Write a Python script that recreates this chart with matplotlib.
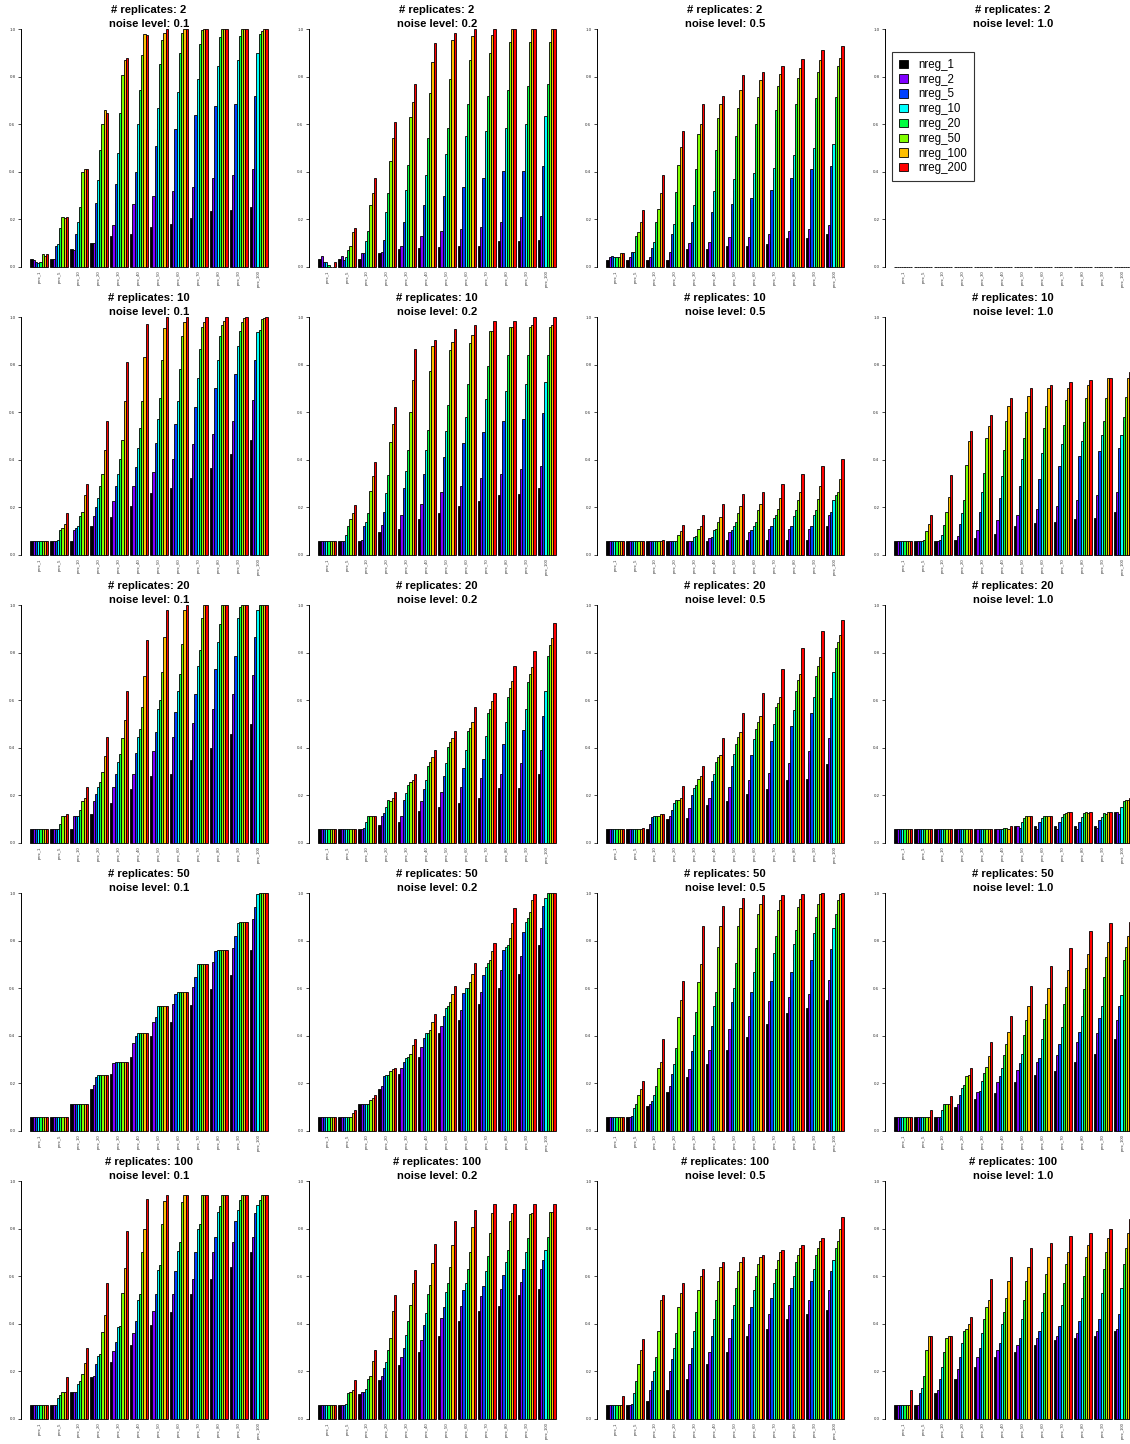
import matplotlib
matplotlib.use("Agg")
import matplotlib.pyplot as plt
from matplotlib.patches import Patch
import numpy as np

plt.rcParams['font.family'] = ['Liberation Sans', 'DejaVu Sans']

perc_labels = ["perc_1", "perc_5", "perc_10", "perc_20", "perc_30", "perc_40",
               "perc_50", "perc_60", "perc_70", "perc_80", "perc_90", "perc_100"]
nreg_labels = ["nreg_1", "nreg_2", "nreg_5", "nreg_10",
               "nreg_20", "nreg_50", "nreg_100", "nreg_200"]
nreg_colors = ["#000000", "#8000FF", "#0040FF", "#00FFFF",
               "#00FF40", "#80FF00", "#FFBF00", "#FF0000"]
replicates = [2, 10, 20, 50, 100]
noise_levels = ["0.1", "0.2", "0.5", "1.0"]

# rows: perc groups, columns: nreg
rep2_noise01 = [
    [0.035, 0.03, 0.02, 0.015, 0.02, 0.053, 0.045, 0.053],
    [0.035, 0.035, 0.09, 0.095, 0.165, 0.21, 0.205, 0.21],
    [0.075, 0.07, 0.14, 0.19, 0.25, 0.40, 0.41, 0.41],
    [0.10, 0.10, 0.27, 0.365, 0.49, 0.60, 0.66, 0.645],
    [0.13, 0.175, 0.35, 0.48, 0.645, 0.805, 0.87, 0.88],
    [0.14, 0.265, 0.40, 0.60, 0.745, 0.89, 0.98, 0.975],
    [0.17, 0.30, 0.51, 0.67, 0.855, 0.955, 0.985, 1.0],
    [0.18, 0.32, 0.58, 0.735, 0.90, 0.985, 1.0, 1.0],
    [0.205, 0.335, 0.64, 0.79, 0.935, 0.995, 1.0, 1.0],
    [0.235, 0.375, 0.675, 0.845, 0.965, 1.0, 1.0, 1.0],
    [0.24, 0.385, 0.685, 0.87, 0.97, 1.0, 1.0, 1.0],
    [0.25, 0.41, 0.72, 0.90, 0.98, 0.99, 1.0, 1.0],
]
rep2_noise02 = [
    [0.035, 0.045, 0.02, 0.02, 0.01, 0.0, 0.0, 0.02],
    [0.035, 0.045, 0.03, 0.04, 0.07, 0.09, 0.145, 0.165],
    [0.035, 0.06, 0.06, 0.11, 0.15, 0.26, 0.31, 0.375],
    [0.06, 0.065, 0.115, 0.23, 0.31, 0.445, 0.54, 0.61],
    [0.075, 0.09, 0.19, 0.325, 0.43, 0.63, 0.695, 0.77],
    [0.08, 0.13, 0.26, 0.385, 0.54, 0.73, 0.86, 0.94],
    [0.085, 0.15, 0.30, 0.475, 0.585, 0.79, 0.955, 0.985],
    [0.09, 0.16, 0.335, 0.55, 0.685, 0.87, 0.97, 1.0],
    [0.09, 0.17, 0.375, 0.57, 0.72, 0.90, 0.975, 1.0],
    [0.11, 0.19, 0.405, 0.585, 0.745, 0.945, 1.0, 1.0],
    [0.11, 0.21, 0.405, 0.60, 0.76, 0.945, 1.0, 1.0],
    [0.115, 0.215, 0.425, 0.635, 0.77, 0.945, 1.0, 1.0],
]
rep2_noise05 = [
    [0.03, 0.04, 0.045, 0.04, 0.04, 0.04, 0.06, 0.06],
    [0.03, 0.04, 0.065, 0.065, 0.13, 0.145, 0.19, 0.24],
    [0.03, 0.04, 0.08, 0.105, 0.19, 0.245, 0.31, 0.385],
    [0.03, 0.065, 0.14, 0.18, 0.315, 0.43, 0.505, 0.57],
    [0.075, 0.10, 0.19, 0.26, 0.41, 0.56, 0.60, 0.685],
    [0.075, 0.105, 0.23, 0.32, 0.49, 0.625, 0.685, 0.72],
    [0.09, 0.125, 0.265, 0.37, 0.55, 0.67, 0.745, 0.805],
    [0.09, 0.125, 0.29, 0.395, 0.60, 0.715, 0.785, 0.82],
    [0.095, 0.14, 0.325, 0.415, 0.66, 0.76, 0.81, 0.845],
    [0.12, 0.15, 0.375, 0.47, 0.685, 0.795, 0.835, 0.875],
    [0.12, 0.16, 0.41, 0.50, 0.71, 0.82, 0.87, 0.91],
    [0.14, 0.175, 0.425, 0.515, 0.715, 0.845, 0.88, 0.93],
]
rep2_noise10 = [[0.0] * 8 for _ in range(12)]

rep10_noise01 = [
    [0.06, 0.06, 0.06, 0.06, 0.06, 0.06, 0.06, 0.06],
    [0.06, 0.06, 0.06, 0.065, 0.105, 0.115, 0.13, 0.175],
    [0.06, 0.105, 0.115, 0.12, 0.165, 0.18, 0.25, 0.30],
    [0.12, 0.165, 0.20, 0.24, 0.29, 0.34, 0.44, 0.565],
    [0.16, 0.225, 0.29, 0.34, 0.405, 0.485, 0.645, 0.81],
    [0.205, 0.29, 0.37, 0.45, 0.535, 0.645, 0.83, 0.97],
    [0.26, 0.35, 0.47, 0.57, 0.66, 0.82, 0.955, 1.0],
    [0.28, 0.405, 0.55, 0.645, 0.78, 0.92, 0.98, 1.0],
    [0.325, 0.465, 0.62, 0.745, 0.865, 0.96, 0.98, 1.0],
    [0.365, 0.51, 0.70, 0.82, 0.92, 0.965, 0.985, 1.0],
    [0.425, 0.565, 0.76, 0.88, 0.94, 0.98, 0.995, 1.0],
    [0.485, 0.65, 0.82, 0.935, 0.945, 0.99, 0.995, 1.0],
]
rep10_noise02 = [
    [0.06, 0.06, 0.06, 0.06, 0.06, 0.06, 0.06, 0.06],
    [0.06, 0.06, 0.06, 0.085, 0.12, 0.15, 0.175, 0.21],
    [0.06, 0.065, 0.12, 0.14, 0.175, 0.27, 0.33, 0.39],
    [0.095, 0.125, 0.18, 0.26, 0.335, 0.475, 0.55, 0.62],
    [0.11, 0.17, 0.28, 0.355, 0.44, 0.60, 0.735, 0.865],
    [0.15, 0.215, 0.34, 0.44, 0.525, 0.775, 0.88, 0.905],
    [0.175, 0.265, 0.41, 0.52, 0.63, 0.86, 0.895, 0.95],
    [0.205, 0.29, 0.47, 0.58, 0.72, 0.89, 0.925, 0.965],
    [0.225, 0.325, 0.515, 0.655, 0.795, 0.94, 0.94, 0.985],
    [0.25, 0.34, 0.565, 0.69, 0.84, 0.96, 0.96, 0.985],
    [0.255, 0.36, 0.57, 0.72, 0.84, 0.96, 0.965, 1.0],
    [0.28, 0.375, 0.595, 0.725, 0.84, 0.96, 0.965, 1.0],
]
rep10_noise05 = [
    [0.06, 0.06, 0.06, 0.06, 0.06, 0.06, 0.06, 0.06],
    [0.06, 0.06, 0.06, 0.06, 0.06, 0.06, 0.06, 0.06],
    [0.06, 0.06, 0.06, 0.06, 0.06, 0.06, 0.06, 0.065],
    [0.06, 0.06, 0.06, 0.06, 0.06, 0.085, 0.10, 0.125],
    [0.06, 0.06, 0.06, 0.075, 0.08, 0.11, 0.12, 0.17],
    [0.06, 0.07, 0.075, 0.105, 0.11, 0.14, 0.16, 0.215],
    [0.065, 0.095, 0.105, 0.12, 0.14, 0.175, 0.205, 0.255],
    [0.065, 0.095, 0.105, 0.12, 0.14, 0.19, 0.215, 0.265],
    [0.065, 0.11, 0.12, 0.155, 0.17, 0.195, 0.24, 0.30],
    [0.065, 0.11, 0.12, 0.165, 0.19, 0.23, 0.265, 0.34],
    [0.065, 0.11, 0.12, 0.17, 0.19, 0.235, 0.29, 0.375],
    [0.12, 0.17, 0.18, 0.23, 0.25, 0.265, 0.32, 0.405],
]
rep10_noise10 = [
    [0.06, 0.06, 0.06, 0.06, 0.06, 0.06, 0.06, 0.06],
    [0.06, 0.06, 0.06, 0.06, 0.065, 0.10, 0.13, 0.17],
    [0.06, 0.06, 0.065, 0.085, 0.125, 0.18, 0.245, 0.335],
    [0.065, 0.08, 0.13, 0.175, 0.23, 0.38, 0.48, 0.52],
    [0.07, 0.105, 0.18, 0.265, 0.345, 0.49, 0.54, 0.59],
    [0.09, 0.145, 0.24, 0.33, 0.44, 0.565, 0.625, 0.66],
    [0.12, 0.17, 0.29, 0.405, 0.49, 0.60, 0.67, 0.70],
    [0.135, 0.195, 0.32, 0.43, 0.535, 0.625, 0.70, 0.715],
    [0.14, 0.205, 0.375, 0.465, 0.545, 0.65, 0.70, 0.725],
    [0.15, 0.23, 0.415, 0.48, 0.56, 0.66, 0.715, 0.735],
    [0.155, 0.25, 0.435, 0.505, 0.565, 0.66, 0.745, 0.745],
    [0.18, 0.265, 0.45, 0.505, 0.58, 0.665, 0.745, 0.77],
]

rep20_noise01 = [
    [0.06, 0.06, 0.06, 0.06, 0.06, 0.06, 0.06, 0.06],
    [0.06, 0.06, 0.06, 0.06, 0.08, 0.115, 0.115, 0.12],
    [0.06, 0.115, 0.115, 0.115, 0.14, 0.175, 0.19, 0.235],
    [0.12, 0.175, 0.205, 0.235, 0.255, 0.30, 0.365, 0.445],
    [0.17, 0.235, 0.29, 0.34, 0.375, 0.44, 0.515, 0.64],
    [0.225, 0.29, 0.38, 0.445, 0.48, 0.57, 0.70, 0.855],
    [0.28, 0.385, 0.465, 0.565, 0.60, 0.72, 0.865, 0.98],
    [0.29, 0.445, 0.55, 0.64, 0.71, 0.835, 0.98, 1.0],
    [0.35, 0.505, 0.625, 0.745, 0.81, 0.945, 1.0, 1.0],
    [0.40, 0.565, 0.73, 0.845, 0.92, 1.0, 1.0, 1.0],
    [0.46, 0.625, 0.785, 0.945, 0.99, 1.0, 1.0, 1.0],
    [0.50, 0.705, 0.865, 0.98, 1.0, 1.0, 1.0, 1.0],
]
rep20_noise02 = [
    [0.06, 0.06, 0.06, 0.06, 0.06, 0.06, 0.06, 0.06],
    [0.06, 0.06, 0.06, 0.06, 0.06, 0.06, 0.06, 0.06],
    [0.06, 0.06, 0.065, 0.09, 0.115, 0.115, 0.115, 0.115],
    [0.075, 0.115, 0.125, 0.15, 0.18, 0.175, 0.19, 0.215],
    [0.09, 0.115, 0.18, 0.21, 0.245, 0.255, 0.265, 0.29],
    [0.135, 0.175, 0.225, 0.265, 0.325, 0.34, 0.36, 0.39],
    [0.15, 0.215, 0.28, 0.335, 0.405, 0.425, 0.44, 0.47],
    [0.17, 0.235, 0.315, 0.39, 0.47, 0.485, 0.51, 0.57],
    [0.19, 0.275, 0.355, 0.45, 0.545, 0.565, 0.595, 0.63],
    [0.23, 0.29, 0.415, 0.51, 0.615, 0.65, 0.68, 0.745],
    [0.23, 0.335, 0.475, 0.565, 0.675, 0.71, 0.74, 0.805],
    [0.29, 0.39, 0.535, 0.64, 0.785, 0.83, 0.86, 0.925],
]
rep20_noise05 = [
    [0.06, 0.06, 0.06, 0.06, 0.06, 0.06, 0.06, 0.06],
    [0.06, 0.06, 0.06, 0.06, 0.06, 0.06, 0.06, 0.065],
    [0.06, 0.08, 0.11, 0.115, 0.115, 0.115, 0.12, 0.12],
    [0.10, 0.115, 0.14, 0.17, 0.18, 0.18, 0.19, 0.24],
    [0.105, 0.145, 0.20, 0.23, 0.245, 0.27, 0.28, 0.325],
    [0.16, 0.19, 0.26, 0.29, 0.34, 0.36, 0.37, 0.44],
    [0.175, 0.235, 0.325, 0.375, 0.415, 0.445, 0.465, 0.545],
    [0.205, 0.265, 0.37, 0.435, 0.48, 0.51, 0.535, 0.63],
    [0.225, 0.295, 0.43, 0.50, 0.57, 0.59, 0.615, 0.73],
    [0.265, 0.335, 0.49, 0.56, 0.64, 0.685, 0.71, 0.82],
    [0.27, 0.385, 0.545, 0.615, 0.70, 0.745, 0.78, 0.89],
    [0.33, 0.44, 0.61, 0.72, 0.82, 0.845, 0.875, 0.935],
]
rep20_noise10 = [
    [0.06, 0.06, 0.06, 0.06, 0.06, 0.06, 0.06, 0.06],
    [0.06, 0.06, 0.06, 0.06, 0.06, 0.06, 0.06, 0.06],
    [0.06, 0.06, 0.06, 0.06, 0.06, 0.06, 0.06, 0.06],
    [0.06, 0.06, 0.06, 0.06, 0.06, 0.06, 0.06, 0.06],
    [0.06, 0.06, 0.06, 0.06, 0.06, 0.06, 0.06, 0.06],
    [0.06, 0.06, 0.06, 0.06, 0.065, 0.065, 0.06, 0.07],
    [0.07, 0.07, 0.065, 0.09, 0.105, 0.115, 0.115, 0.115],
    [0.07, 0.06, 0.09, 0.105, 0.115, 0.115, 0.115, 0.115],
    [0.07, 0.06, 0.09, 0.11, 0.12, 0.125, 0.13, 0.13],
    [0.07, 0.06, 0.09, 0.11, 0.125, 0.13, 0.125, 0.13],
    [0.07, 0.065, 0.095, 0.11, 0.125, 0.12, 0.13, 0.13],
    [0.13, 0.13, 0.12, 0.15, 0.175, 0.18, 0.18, 0.19],
]

rep50_noise01 = [
    [0.06, 0.06, 0.06, 0.06, 0.06, 0.06, 0.06, 0.06],
    [0.06, 0.06, 0.06, 0.06, 0.06, 0.06, 0.06, 0.06],
    [0.115, 0.115, 0.115, 0.115, 0.115, 0.115, 0.115, 0.115],
    [0.175, 0.195, 0.225, 0.235, 0.235, 0.235, 0.235, 0.235],
    [0.24, 0.285, 0.29, 0.29, 0.29, 0.29, 0.29, 0.29],
    [0.31, 0.37, 0.40, 0.41, 0.41, 0.41, 0.41, 0.41],
    [0.40, 0.46, 0.48, 0.525, 0.525, 0.525, 0.525, 0.525],
    [0.46, 0.535, 0.575, 0.585, 0.585, 0.585, 0.585, 0.585],
    [0.53, 0.605, 0.645, 0.70, 0.70, 0.70, 0.70, 0.70],
    [0.595, 0.71, 0.755, 0.76, 0.76, 0.76, 0.76, 0.76],
    [0.655, 0.77, 0.82, 0.875, 0.88, 0.88, 0.88, 0.88],
    [0.76, 0.89, 0.94, 0.995, 1.0, 1.0, 1.0, 1.0],
]
rep50_noise02 = [
    [0.06, 0.06, 0.06, 0.06, 0.06, 0.06, 0.06, 0.06],
    [0.06, 0.06, 0.06, 0.06, 0.06, 0.06, 0.075, 0.09],
    [0.115, 0.115, 0.115, 0.115, 0.115, 0.13, 0.14, 0.15],
    [0.175, 0.19, 0.23, 0.235, 0.235, 0.25, 0.26, 0.265],
    [0.24, 0.265, 0.29, 0.305, 0.31, 0.325, 0.36, 0.385],
    [0.31, 0.355, 0.39, 0.41, 0.41, 0.425, 0.46, 0.49],
    [0.41, 0.44, 0.485, 0.515, 0.525, 0.54, 0.575, 0.61],
    [0.465, 0.51, 0.58, 0.60, 0.60, 0.625, 0.66, 0.705],
    [0.535, 0.585, 0.655, 0.69, 0.705, 0.72, 0.755, 0.79],
    [0.60, 0.675, 0.76, 0.775, 0.78, 0.81, 0.875, 0.935],
    [0.66, 0.735, 0.835, 0.88, 0.895, 0.92, 0.97, 0.995],
    [0.78, 0.855, 0.945, 0.98, 1.0, 1.0, 1.0, 1.0],
]
rep50_noise05 = [
    [0.06, 0.06, 0.06, 0.06, 0.06, 0.06, 0.06, 0.06],
    [0.06, 0.06, 0.065, 0.095, 0.115, 0.15, 0.175, 0.21],
    [0.105, 0.115, 0.125, 0.15, 0.19, 0.265, 0.29, 0.385],
    [0.165, 0.19, 0.24, 0.28, 0.35, 0.48, 0.55, 0.63],
    [0.225, 0.26, 0.335, 0.405, 0.50, 0.625, 0.70, 0.86],
    [0.28, 0.34, 0.44, 0.525, 0.585, 0.775, 0.86, 0.945],
    [0.34, 0.43, 0.54, 0.60, 0.705, 0.86, 0.935, 0.98],
    [0.395, 0.485, 0.585, 0.67, 0.77, 0.91, 0.955, 0.99],
    [0.45, 0.545, 0.63, 0.75, 0.82, 0.93, 0.97, 0.99],
    [0.495, 0.565, 0.67, 0.785, 0.845, 0.94, 0.975, 0.995],
    [0.515, 0.575, 0.72, 0.83, 0.90, 0.955, 0.995, 1.0],
    [0.55, 0.635, 0.765, 0.855, 0.91, 0.97, 0.995, 1.0],
]
rep50_noise10 = [
    [0.06, 0.06, 0.06, 0.06, 0.06, 0.06, 0.06, 0.06],
    [0.06, 0.06, 0.06, 0.06, 0.06, 0.06, 0.06, 0.09],
    [0.06, 0.06, 0.06, 0.09, 0.115, 0.115, 0.115, 0.145],
    [0.10, 0.115, 0.15, 0.18, 0.195, 0.23, 0.235, 0.265],
    [0.135, 0.165, 0.17, 0.21, 0.245, 0.27, 0.315, 0.375],
    [0.16, 0.205, 0.23, 0.265, 0.32, 0.365, 0.415, 0.485],
    [0.205, 0.255, 0.285, 0.325, 0.405, 0.465, 0.525, 0.61],
    [0.235, 0.29, 0.305, 0.385, 0.47, 0.535, 0.60, 0.695],
    [0.25, 0.32, 0.365, 0.435, 0.535, 0.605, 0.675, 0.77],
    [0.29, 0.375, 0.415, 0.485, 0.595, 0.685, 0.745, 0.84],
    [0.325, 0.41, 0.475, 0.525, 0.645, 0.73, 0.795, 0.875],
    [0.385, 0.465, 0.525, 0.57, 0.72, 0.775, 0.82, 0.88],
]

rep100_noise01 = [
    [0.06, 0.06, 0.06, 0.06, 0.06, 0.06, 0.06, 0.06],
    [0.06, 0.06, 0.06, 0.09, 0.10, 0.115, 0.115, 0.175],
    [0.115, 0.115, 0.115, 0.145, 0.16, 0.19, 0.235, 0.30],
    [0.175, 0.18, 0.23, 0.265, 0.275, 0.365, 0.435, 0.57],
    [0.24, 0.285, 0.325, 0.385, 0.39, 0.53, 0.635, 0.79],
    [0.31, 0.36, 0.41, 0.50, 0.525, 0.70, 0.80, 0.925],
    [0.395, 0.455, 0.525, 0.625, 0.645, 0.82, 0.915, 0.94],
    [0.45, 0.525, 0.62, 0.705, 0.745, 0.91, 0.94, 0.94],
    [0.525, 0.59, 0.70, 0.80, 0.82, 0.94, 0.94, 0.94],
    [0.59, 0.70, 0.765, 0.87, 0.895, 0.94, 0.94, 0.94],
    [0.64, 0.745, 0.83, 0.88, 0.92, 0.94, 0.94, 0.94],
    [0.70, 0.765, 0.865, 0.90, 0.92, 0.94, 0.94, 0.94],
]
rep100_noise02 = [
    [0.06, 0.06, 0.06, 0.06, 0.06, 0.06, 0.06, 0.06],
    [0.06, 0.06, 0.06, 0.065, 0.11, 0.115, 0.12, 0.165],
    [0.105, 0.115, 0.115, 0.125, 0.17, 0.18, 0.245, 0.29],
    [0.165, 0.18, 0.215, 0.24, 0.29, 0.34, 0.455, 0.52],
    [0.225, 0.26, 0.30, 0.355, 0.41, 0.48, 0.57, 0.625],
    [0.28, 0.33, 0.395, 0.445, 0.525, 0.565, 0.655, 0.735],
    [0.35, 0.425, 0.47, 0.535, 0.57, 0.64, 0.73, 0.83],
    [0.41, 0.475, 0.54, 0.57, 0.63, 0.70, 0.805, 0.88],
    [0.455, 0.515, 0.56, 0.62, 0.685, 0.78, 0.865, 0.905],
    [0.475, 0.545, 0.605, 0.66, 0.71, 0.83, 0.865, 0.905],
    [0.52, 0.575, 0.63, 0.70, 0.76, 0.86, 0.865, 0.905],
    [0.545, 0.63, 0.67, 0.71, 0.765, 0.87, 0.87, 0.905],
]
rep100_noise05 = [
    [0.06, 0.06, 0.06, 0.06, 0.06, 0.06, 0.06, 0.095],
    [0.06, 0.06, 0.065, 0.11, 0.16, 0.23, 0.29, 0.335],
    [0.075, 0.12, 0.16, 0.20, 0.26, 0.37, 0.50, 0.52],
    [0.12, 0.20, 0.25, 0.30, 0.36, 0.47, 0.53, 0.57],
    [0.17, 0.23, 0.30, 0.37, 0.45, 0.54, 0.60, 0.63],
    [0.23, 0.28, 0.35, 0.42, 0.50, 0.58, 0.64, 0.66],
    [0.28, 0.34, 0.42, 0.48, 0.55, 0.62, 0.66, 0.68],
    [0.35, 0.40, 0.47, 0.54, 0.60, 0.65, 0.68, 0.69],
    [0.38, 0.44, 0.51, 0.57, 0.63, 0.67, 0.70, 0.71],
    [0.42, 0.48, 0.55, 0.60, 0.66, 0.69, 0.72, 0.73],
    [0.44, 0.50, 0.58, 0.63, 0.69, 0.72, 0.75, 0.76],
    [0.46, 0.54, 0.62, 0.67, 0.72, 0.75, 0.80, 0.85],
]
rep100_noise10 = [
    [0.06, 0.06, 0.06, 0.06, 0.06, 0.06, 0.06, 0.12],
    [0.06, 0.06, 0.11, 0.13, 0.18, 0.29, 0.35, 0.35],
    [0.11, 0.12, 0.17, 0.22, 0.28, 0.34, 0.35, 0.35],
    [0.17, 0.21, 0.26, 0.32, 0.37, 0.38, 0.40, 0.43],
    [0.22, 0.26, 0.30, 0.36, 0.42, 0.47, 0.50, 0.59],
    [0.26, 0.29, 0.32, 0.40, 0.45, 0.51, 0.58, 0.68],
    [0.28, 0.31, 0.34, 0.42, 0.50, 0.58, 0.64, 0.72],
    [0.31, 0.34, 0.37, 0.45, 0.53, 0.61, 0.68, 0.74],
    [0.33, 0.35, 0.39, 0.48, 0.57, 0.65, 0.70, 0.77],
    [0.34, 0.36, 0.41, 0.51, 0.60, 0.68, 0.73, 0.78],
    [0.35, 0.37, 0.42, 0.53, 0.63, 0.70, 0.76, 0.80],
    [0.37, 0.38, 0.44, 0.55, 0.65, 0.72, 0.78, 0.84],
]

panels = [
    [rep2_noise01, rep2_noise02, rep2_noise05, rep2_noise10],
    [rep10_noise01, rep10_noise02, rep10_noise05, rep10_noise10],
    [rep20_noise01, rep20_noise02, rep20_noise05, rep20_noise10],
    [rep50_noise01, rep50_noise02, rep50_noise05, rep50_noise10],
    [rep100_noise01, rep100_noise02, rep100_noise05, rep100_noise10],
]

W, H = 1130, 1444
fig = plt.figure(figsize=(W / 100, H / 100), dpi=100)


def add_axes_px(left, top, width, height):
    # place an axes using pixel coordinates measured from the top-left corner
    return fig.add_axes([left / W, 1 - (top + height) / H, width / W, height / H])


n_groups, n_bars = len(perc_labels), len(nreg_labels)
# barplot(beside=TRUE) layout: one empty unit between groups
bar_left = 1 + np.arange(n_groups)[:, None] * (n_bars + 1) + np.arange(n_bars)[None, :]
x_lo, x_hi = bar_left.min(), bar_left.max() + 1
x_pad = 0.04 * (x_hi - x_lo)
group_mid = bar_left[:, 0] + n_bars / 2

cell_w, cell_h = 288, 288
for r, reps in enumerate(replicates):
    for c, noise in enumerate(noise_levels):
        vals = np.asarray(panels[r][c])
        left = 21 + cell_w * c
        top = 19.5 + cell_h * r
        ax = add_axes_px(left, top, 256, 257)
        for j in range(n_bars):
            ax.bar(bar_left[:, j], vals[:, j], width=1, align='edge',
                   color=nreg_colors[j], edgecolor='black', linewidth=0.6)
        ax.set_xlim(x_lo - x_pad, x_hi + x_pad)
        ax.set_ylim(-0.04, 1.04)
        for side in ['top', 'right', 'bottom']:
            ax.spines[side].set_visible(False)
        ax.spines['left'].set_bounds(0, 1)
        ax.spines['left'].set_linewidth(0.7)
        ax.set_yticks(np.linspace(0, 1, 6))
        ax.set_yticklabels([f"{v:.1f}" for v in np.linspace(0, 1, 6)])
        ax.tick_params(axis='y', labelsize=3.2, length=2, width=0.5, pad=2,
                       labelcolor='#333333')
        ax.set_xticks([])
        for g in range(n_groups):
            ax.text(group_mid[g], -0.014, perc_labels[g], rotation=90,
                    ha='center', va='top', fontsize=3, color='#333333')
        ax.patch.set_alpha(0)

        cx = (left + 128) / W
        fig.text(cx, 1 - (10 + cell_h * r) / H, f"# replicates: {reps}",
                 ha='center', va='center', fontsize=8.1, fontweight='bold')
        fig.text(cx, 1 - (24 + cell_h * r) / H, f"noise level: {noise}",
                 ha='center', va='center', fontsize=8.1, fontweight='bold')

        if r == 0 and c == 3:
            handles = [Patch(facecolor=col, edgecolor='black', linewidth=0.6)
                       for col in nreg_colors]
            leg = ax.legend(handles, nreg_labels, loc='upper left',
                            bbox_to_anchor=(892 / W, 1 - 52 / H),
                            bbox_transform=fig.transFigure,
                            fontsize=8.3, frameon=True, fancybox=False,
                            edgecolor='#333333', framealpha=1,
                            borderpad=0.6, handlelength=0.75, handleheight=0.75,
                            handletextpad=0.9, labelspacing=0.24,
                            borderaxespad=0)
            leg.get_frame().set_linewidth(0.8)

fig.savefig("out.png", dpi=100)
